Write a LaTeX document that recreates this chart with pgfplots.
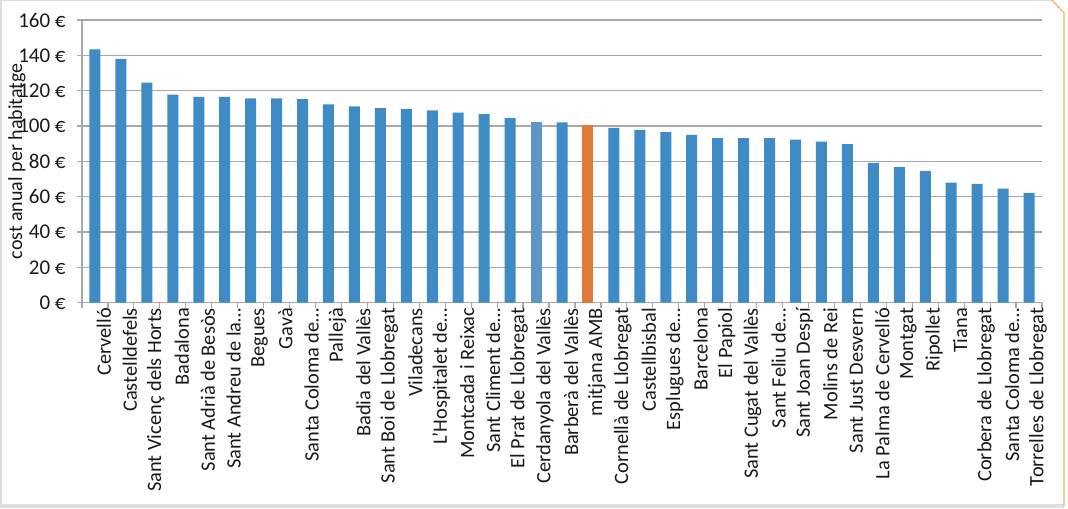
\documentclass[border=0pt]{standalone}
\usepackage{fontspec}
\setmainfont{Carlito}
\usepackage{pgfplots}
\pgfplotsset{compat=1.18}
\definecolor{barblue}{RGB}{62,139,198}
\definecolor{barlight}{RGB}{92,150,196}
\definecolor{barorange}{RGB}{224,122,56}
\definecolor{gridgray}{RGB}{168,168,168}
\definecolor{framegray}{RGB}{222,222,222}
\definecolor{frameorange}{RGB}{242,178,99}
\definecolor{txt}{RGB}{25,25,25}
\begin{document}
\begin{tikzpicture}
\path[use as bounding box] (0,0) rectangle (534pt,254pt);
% frame
\draw[framegray, line width=1pt] (0.3pt,0) -- (0.3pt,254pt);
\draw[framegray, line width=0.8pt] (0,253.7pt) -- (526pt,253.7pt);
\fill[framegray] (0,0) rectangle (532pt,2pt);
\draw[frameorange, line width=0.6pt] (526pt,254pt) -- (532pt,247.5pt) -- (532pt,1pt);
\begin{axis}[
  at={(41pt,102.65pt)}, anchor=south west,
  scale only axis, width=480pt, height=141.35pt,
  xmin=-0.5, xmax=36.5, ymin=0, ymax=160,
  axis x line*=bottom, axis y line*=left,
  axis line style={gridgray, line width=0.7pt, -},
  ymajorgrids, grid style={gridgray, line width=0.8pt},
  ytick={0,20,...,160},
  yticklabels={0 €,20 €,40 €,60 €,80 €,100 €,120 €,140 €,160 €},
  xtick={0,...,36},
  minor xtick={-0.5,0.5,...,36.5},
  major x tick style={draw=none},
  minor x tick style={gridgray, line width=0.6pt},
  y tick style={gridgray, line width=0.7pt},
  tick align=outside,
  major tick length=2.5pt, minor tick length=2.5pt,
  xticklabels={Cervelló,Castelldefels,Sant Vicenç dels Horts,Badalona,Sant Adrià de Besòs,Sant Andreu de la…,Begues,Gavà,Santa Coloma de…,Pallejà,Badia del Vallès,Sant Boi de Llobregat,Viladecans,L'Hospitalet de…,Montcada i Reixac,Sant Climent de…,El Prat de Llobregat,Cerdanyola del Vallès,Barberà del Vallès,mitjana AMB,Cornellà de Llobregat,Castellbisbal,Esplugues de…,Barcelona,El Papiol,Sant Cugat del Vallès,Sant Feliu de…,Sant Joan Despí,Molins de Rei,Sant Just Desvern,La Palma de Cervelló,Montgat,Ripollet,Tiana,Corbera de Llobregat,Santa Coloma de…,Torrelles de Llobregat},
  xticklabel style={rotate=90, anchor=east, font=\fontsize{10.2pt}{12pt}\selectfont, text=txt, inner sep=0pt, yshift=-4.5pt},
  yticklabel style={font=\fontsize{10.5pt}{13pt}\selectfont, text=txt, anchor=east, inner sep=0pt, xshift=-5.5pt},
  ylabel={cost anual per habitatge},
  ylabel style={at={(rel axis cs:0,0.5)}, anchor=center, yshift=32.5pt, font=\fontsize{10pt}{12pt}\selectfont, text=txt},
]
\addplot[ybar, bar width=5.5pt, bar shift=0pt, fill=barblue, draw=none] coordinates {
(0,143.4) (1,138) (2,124.5) (3,117.8) (4,116.5) (5,116.5) (6,115.6) (7,115.6) (8,115.2) (9,112.2)
(10,111.1) (11,110.1) (12,109.5) (13,108.8) (14,107.6) (15,106.7) (16,104.4) (18,102.1)
(20,98.9) (21,97.8) (22,96.5) (23,95.0) (24,93.1) (25,93.1) (26,93.1) (27,92.3) (28,91.2) (29,89.7)
(30,79.1) (31,76.8) (32,74.6) (33,67.9) (34,67.3) (35,64.5) (36,62.2)
};
\addplot[ybar, bar width=5.5pt, bar shift=0pt, fill=barlight, draw=none] coordinates {(17,102.1)};
\addplot[ybar, bar width=5.5pt, bar shift=0pt, fill=barorange, draw=none] coordinates {(19,100.3)};
\end{axis}
\end{tikzpicture}
\end{document}
